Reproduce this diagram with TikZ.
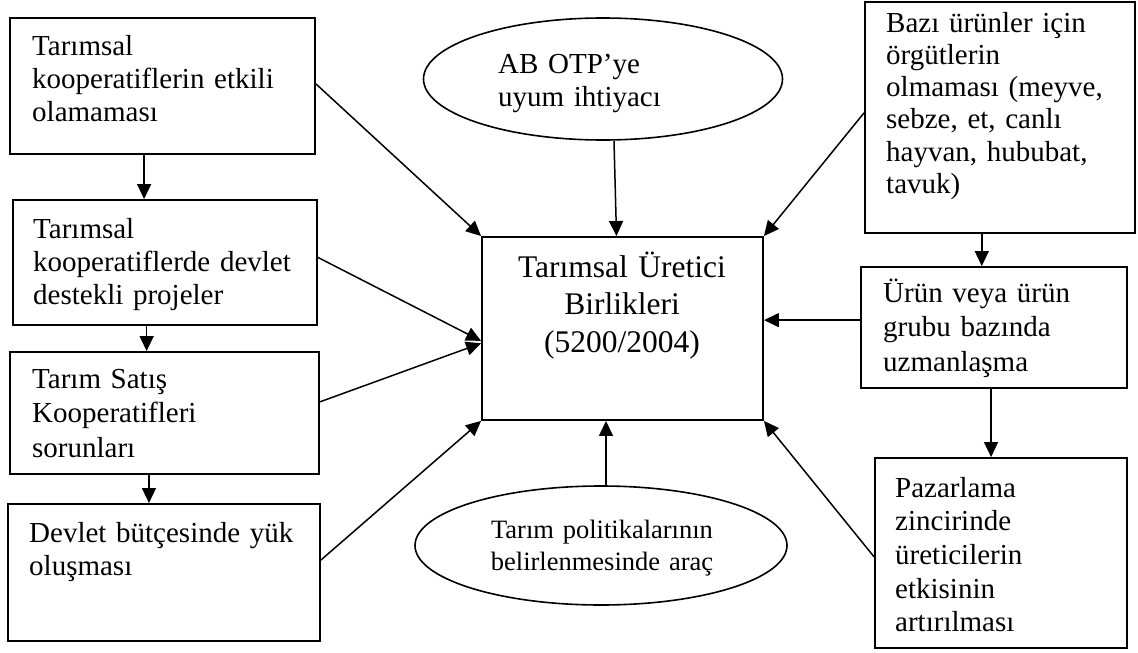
\documentclass[tikz,border=0pt]{standalone}
\usepackage{fontspec}
\setmainfont{Liberation Serif}
\usetikzlibrary{arrows.meta,shapes.geometric,calc}
\newcommand\txtA{\fontsize{29}{33.3}\selectfont}
\newcommand\txtR{\fontsize{29}{32.3}\selectfont}
\newcommand\txtB{\fontsize{31.5}{37.5}\selectfont}
\newcommand\txtC{\fontsize{26.5}{32}\selectfont}
\begin{document}
\begin{tikzpicture}[x=1pt,y=-1pt,
  boxnode/.style={draw, line width=1.9pt, rectangle, inner sep=0pt},
  ellnode/.style={draw, line width=1.6pt, ellipse, inner sep=0pt},
  txt/.style={inner sep=0pt, anchor=base west, align=left, text width=300pt, font=\txtA},
  ctxt/.style={inner sep=0pt, anchor=base, align=center, text width=300pt},
  arr/.style={line width=1.5pt, -{Triangle[length=15pt,width=14pt]}}]
\useasboundingbox (0,0) rectangle (1138,653);
\fill[white] (0,0) rectangle (1138,653);
% boxes
\node[boxnode, minimum width=305pt, minimum height=136pt] (L1) at (162.5,86) {};
\node[boxnode, minimum width=304pt, minimum height=125pt] (L2) at (165,262.5) {};
\node[boxnode, minimum width=309pt, minimum height=122pt] (L3) at (164.5,413) {};
\node[boxnode, minimum width=312pt, minimum height=137pt] (L4) at (164,572.5) {};
\node[boxnode, minimum width=281pt, minimum height=183pt] (C) at (622.5,328.5) {};
\node[boxnode, minimum width=270pt, minimum height=231pt] (R1) at (1000,117.5) {};
\node[boxnode, minimum width=266pt, minimum height=121pt] (R2) at (994,327.5) {};
\node[boxnode, minimum width=252pt, minimum height=190pt] (R3) at (1001,553) {};
\node[ellnode, minimum width=359pt, minimum height=122pt] (T) at (603,79) {};
\node[ellnode, minimum width=372pt, minimum height=119pt] (B) at (601,545.5) {};
% texts
\node[txt] (tL1) at (32,55) {Tarımsal\\kooperatiflerin etkili\\olamaması};
\node[txt] (tL2) at (33,238) {Tarımsal\\kooperatiflerde devlet\\destekli projeler};
\node[txt, font=\fontsize{29}{34.5}\selectfont] (tL3) at (32,388) {Tarım Satış\\Kooperatifleri\\sorunları};
\node[txt] (tL4) at (29,542) {Devlet bütçesinde yük\\oluşması};
\node[ctxt, font=\txtB] (tC) at (622,277) {Tarımsal Üretici\\Birlikleri\\(5200/2004)};
\node[txt] (tT) at (498,73) {AB OTP’ye\\uyum ihtiyacı};
\node[ctxt, font=\txtC] (tB) at (602,538) {Tarım politikalarının\\belirlenmesinde araç};
\node[txt, font=\txtR] (tR1) at (886,32) {Bazı ürünler için\\örgütlerin\\olmaması (meyve,\\sebze, et, canlı\\hayvan, hububat,\\tavuk)};
\node[txt, font=\fontsize{29}{34.5}\selectfont] (tR2) at (883,302) {Ürün veya ürün\\grubu bazında\\uzmanlaşma};
\node[txt, font=\fontsize{29}{33.7}\selectfont] (tR3) at (895,497) {Pazarlama\\zincirinde\\üreticilerin\\etkisinin\\artırılması};
% left column chain
\coordinate (a1) at ($(L1.south west)!0.44!(L1.south east)$);
\draw[arr] (a1) -- (a1 |- L2.north);
\coordinate (a2) at ($(L2.south west)!0.44!(L2.south east)$);
\draw[arr] (a2) -- (a2 |- L3.north);
\coordinate (a3) at ($(L3.south west)!0.45!(L3.south east)$);
\draw[arr] (a3) -- (a3 |- L4.north);
% left to center
\draw[arr] ($(L1.north east)!0.485!(L1.south east)$) -- (C.north west);
\draw[arr] ($(L2.north east)!0.46!(L2.south east)$) -- ($(C.north west)!0.567!(C.south west)$);
\draw[arr] ($(L3.north east)!0.41!(L3.south east)$) -- ($(C.north west)!0.58!(C.south west)$);
\draw[arr] ($(L4.north east)!0.41!(L4.south east)$) -- (C.south west);
% ellipses to center
\coordinate (t1) at ([xshift=11pt]T.south);
\draw[arr] (t1) -- ([xshift=-6pt]C.north);
\coordinate (b1) at ([xshift=5pt]B.north);
\draw[arr] (b1) -- (b1 |- C.south);
% right column
\coordinate (r1) at ($(R1.south west)!0.433!(R1.south east)$);
\draw[arr] (r1) -- (r1 |- R2.north);
\coordinate (r2) at ($(R2.south west)!0.489!(R2.south east)$);
\draw[arr] (r2) -- (r2 |- R3.north);
\draw[arr] ($(R1.north west)!0.48!(R1.south west)$) -- (C.north east);
\coordinate (r2w) at ($(R2.north west)!0.44!(R2.south west)$);
\draw[arr] (r2w) -- (r2w -| C.east);
\draw[arr] ($(R3.north west)!0.52!(R3.south west)$) -- (C.south east);
\end{tikzpicture}
\end{document}
